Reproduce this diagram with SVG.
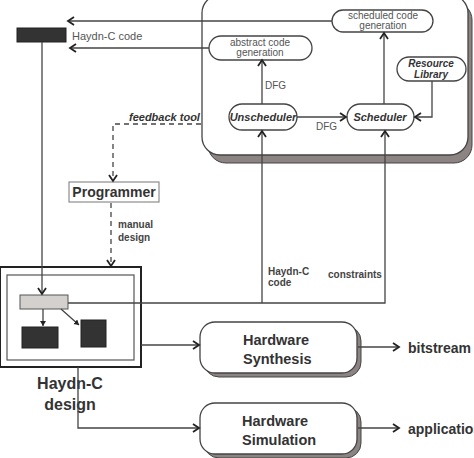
<svg xmlns="http://www.w3.org/2000/svg" width="474" height="458" viewBox="0 0 474 458">
<defs>
<style>
text{font-family:"Liberation Sans",Arial,sans-serif;fill:#333}
.sm{font-size:10px;fill:#555}
.bi{font-size:11px;font-weight:bold;font-style:italic}
.b{font-weight:bold}
.node{fill:#fff;stroke:#444;stroke-width:1.3}
.shadow{fill:#8c8482;stroke:#444;stroke-width:1}
.ln{fill:none;stroke:#444;stroke-width:1.3}
.dash{fill:none;stroke:#444;stroke-width:1.3;stroke-dasharray:5,4}
</style>
<marker id="ah" markerWidth="10" markerHeight="12" refX="7" refY="5" orient="auto" markerUnits="userSpaceOnUse">
<path d="M1,1 L7,5 L1,9" fill="none" stroke="#222" stroke-width="1.8"/>
</marker>
<marker id="ahs" markerWidth="8" markerHeight="8" refX="5" refY="3" orient="auto" markerUnits="userSpaceOnUse">
<path d="M0,0 L5,3 L0,6 Z" fill="#222"/>
</marker>
</defs>
<rect width="474" height="458" fill="#fff"/>

<g id="framework">
<rect class="shadow" x="208" y="2" width="264" height="161" rx="18"/>
<rect class="node" x="202" y="-5" width="266" height="160" rx="18"/>
</g>

<g id="sched-codegen">
<rect class="node" x="332" y="10" width="101" height="22" rx="11"/>
<text class="sm" x="383" y="19" text-anchor="middle">scheduled code</text>
<text class="sm" x="383" y="29" text-anchor="middle">generation</text>
</g>

<g id="abstract-codegen">
<rect class="node" x="209" y="36" width="103" height="24" rx="12"/>
<text class="sm" x="260" y="46" text-anchor="middle">abstract code</text>
<text class="sm" x="260" y="56" text-anchor="middle">generation</text>
</g>

<g id="resource-library">
<rect class="node" x="397" y="57" width="69" height="24" rx="12"/>
<text class="bi" x="431" y="67" text-anchor="middle" style="font-size:10px">Resource</text>
<text class="bi" x="431" y="78" text-anchor="middle" style="font-size:10px">Library</text>
</g>

<g id="unscheduler">
<rect class="node" x="229" y="104" width="68" height="26" rx="13"/>
<text class="bi" x="263" y="121" text-anchor="middle">Unscheduler</text>
</g>

<g id="scheduler">
<rect class="node" x="347" y="104" width="67" height="26" rx="13"/>
<text class="bi" x="380" y="121" text-anchor="middle">Scheduler</text>
</g>

<g id="source-code">
<rect x="17" y="28" width="49" height="14" fill="#333" stroke="#222"/>
</g>

<g id="programmer">
<rect x="69" y="182" width="90" height="20" fill="#fff" stroke="#777" stroke-width="1"/>
<text class="b" x="114" y="197" text-anchor="middle" style="font-size:14px">Programmer</text>
</g>

<g id="haydn-c-design">
<rect x="0" y="267" width="141" height="100" fill="#fff" stroke="#222" stroke-width="2"/>
<rect x="7" y="275" width="127" height="85" fill="#fff" stroke="#555" stroke-width="1.2"/>
<rect x="20" y="295" width="48" height="14" fill="#d4d0cd" stroke="#555" stroke-width="1"/>
<rect x="22" y="327" width="36" height="21" fill="#333" stroke="#222"/>
<rect x="81" y="320" width="25" height="27" fill="#333" stroke="#222"/>
<text class="b" x="70" y="389" text-anchor="middle" style="font-size:16px">Haydn-C</text>
<text class="b" x="70" y="410" text-anchor="middle" style="font-size:16px">design</text>
</g>

<g id="hw-synthesis">
<rect class="shadow" x="204" y="326" width="157" height="51" rx="15"/>
<rect class="node" x="200" y="322" width="157" height="51" rx="15"/>
<text class="b" x="243" y="345" style="font-size:14.5px">Hardware</text>
<text class="b" x="243" y="364" style="font-size:14.5px">Synthesis</text>
</g>

<g id="hw-simulation">
<rect class="shadow" x="204" y="407" width="157" height="51" rx="15"/>
<rect class="node" x="200" y="403" width="157" height="51" rx="15"/>
<text class="b" x="242" y="426" style="font-size:14.5px">Hardware</text>
<text class="b" x="242" y="445" style="font-size:14.5px">Simulation</text>
</g>

<g id="connectors">
<path class="ln" d="M332,21 H68" marker-end="url(#ah)"/>
<path class="ln" d="M209,48 H70" marker-end="url(#ah)"/>
<path class="ln" d="M42,42 V294" marker-end="url(#ah)"/>
<path class="dash" d="M201,124 H113 V181" marker-end="url(#ah)"/>
<path class="dash" d="M111,203 V266" marker-end="url(#ah)"/>
<path class="ln" d="M43,309 V326" stroke-width="1" marker-end="url(#ahs)"/>
<path class="ln" d="M61,309 L79,325" stroke-width="1" marker-end="url(#ahs)"/>
<path class="ln" d="M68,303 H385 V131" marker-end="url(#ah)"/>
<path class="ln" d="M262,303 V131" marker-end="url(#ah)"/>
<path class="ln" d="M262,104 V60" marker-end="url(#ah)"/>
<path class="ln" d="M297,117 H346" marker-end="url(#ah)"/>
<path class="ln" d="M384,104 V33" marker-end="url(#ah)"/>
<path class="ln" d="M432,81 V117 H415" marker-end="url(#ah)"/>
<path class="ln" d="M141,345 H199" marker-end="url(#ah)"/>
<path class="ln" d="M78,367 V428 H199" marker-end="url(#ah)"/>
<path class="ln" d="M358,347 H399" marker-end="url(#ah)"/>
<path class="ln" d="M358,428 H399" marker-end="url(#ah)"/>
<text class="sm" x="72" y="40" style="font-size:11px">Haydn-C code</text>
<text class="sm" x="265" y="89">DFG</text>
<text class="sm" x="316" y="130">DFG</text>
<text class="bi" x="129" y="121" fill="#444">feedback tool</text>
<text x="118" y="228" style="font-size:10px;font-weight:bold;fill:#444">manual</text>
<text x="118" y="241" style="font-size:10px;font-weight:bold;fill:#444">design</text>
<text x="268" y="275" style="font-size:10px;font-weight:bold;fill:#444">Haydn-C</text>
<text x="268" y="286" style="font-size:10px;font-weight:bold;fill:#444">code</text>
<text x="328" y="278" style="font-size:10px;font-weight:bold;fill:#444">constraints</text>
<text class="b" x="408" y="353" style="font-size:14px">bitstream</text>
<text class="b" x="408" y="434" style="font-size:14px">application</text>
</g>
</svg>
